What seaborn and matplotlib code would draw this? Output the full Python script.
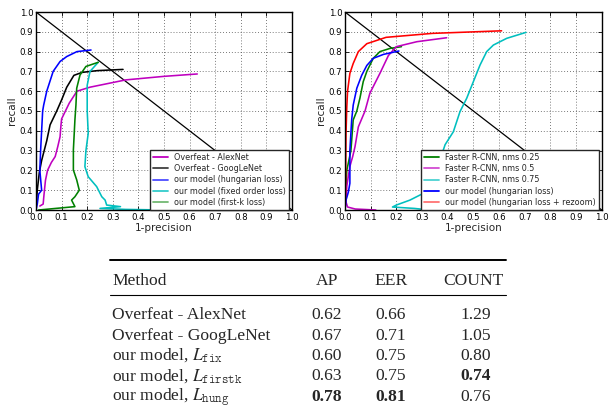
import matplotlib
matplotlib.use("Agg")
import matplotlib.pyplot as plt
import pandas as pd
import seaborn as sns

# ---------------- data: left panel ----------------
left_names = ["Overfeat - AlexNet", "Overfeat - GoogLeNet", "our model (hungarian loss)",
              "our model (fixed order loss)", "our model (first-k loss)"]
left_colors = ["#bf00bf", "#000000", "#0000ff", "#00bfbf", "#008000"]

alex_x = [0.015, 0.028, 0.030, 0.033, 0.037, 0.045, 0.060, 0.075, 0.085, 0.094, 0.097, 0.100, 0.115, 0.130, 0.160, 0.210, 0.350, 0.500, 0.630]
alex_y = [0.020, 0.030, 0.060, 0.100, 0.150, 0.200, 0.240, 0.270, 0.320, 0.370, 0.420, 0.460, 0.500, 0.540, 0.600, 0.620, 0.657, 0.675, 0.687]
goog_x = [0.000, 0.005, 0.013, 0.022, 0.042, 0.055, 0.081, 0.100, 0.120, 0.148, 0.180, 0.240, 0.340]
goog_y = [0.010, 0.100, 0.190, 0.250, 0.350, 0.430, 0.500, 0.556, 0.620, 0.680, 0.695, 0.704, 0.710]
hungL_x = [0.000, 0.005, 0.010, 0.022, 0.015, 0.018, 0.022, 0.026, 0.030, 0.042, 0.067, 0.094, 0.120, 0.160, 0.215]
hungL_y = [0.000, 0.030, 0.080, 0.100, 0.200, 0.300, 0.400, 0.500, 0.530, 0.600, 0.700, 0.750, 0.775, 0.800, 0.808]
fix_x = [0.500, 0.350, 0.250, 0.330, 0.276, 0.270, 0.257, 0.237, 0.204, 0.191, 0.195, 0.204, 0.200, 0.200, 0.200, 0.211, 0.243]
fix_y = [0.000, 0.003, 0.008, 0.017, 0.025, 0.050, 0.067, 0.118, 0.168, 0.219, 0.300, 0.387, 0.500, 0.556, 0.630, 0.700, 0.746]
firstk_x = [0.010, 0.094, 0.152, 0.139, 0.152, 0.169, 0.159, 0.146, 0.146, 0.152, 0.156, 0.159, 0.172, 0.195, 0.243]
firstk_y = [0.000, 0.010, 0.017, 0.050, 0.067, 0.100, 0.152, 0.202, 0.303, 0.455, 0.530, 0.615, 0.682, 0.725, 0.746]

# ---------------- data: right panel ----------------
right_names = ["Faster R-CNN, nms 0.25", "Faster R-CNN, nms 0.5", "Faster R-CNN, nms 0.75",
               "our model (hungarian loss)", "our model (hungarian loss + rezoom)"]
right_colors = ["#008000", "#bf00bf", "#00bfbf", "#0000ff", "#ff0000"]

nms25_x = [0.000, 0.002, 0.007, 0.023, 0.032, 0.046, 0.058, 0.071, 0.085, 0.110, 0.136, 0.175, 0.220]
nms25_y = [0.000, 0.070, 0.200, 0.300, 0.455, 0.500, 0.564, 0.648, 0.700, 0.766, 0.800, 0.816, 0.825]
nms50_x = [0.120, 0.040, 0.010, 0.004, 0.007, 0.019, 0.030, 0.039, 0.052, 0.078, 0.097, 0.136, 0.169, 0.200, 0.280, 0.396]
nms50_y = [0.000, 0.005, 0.015, 0.040, 0.120, 0.220, 0.270, 0.320, 0.420, 0.500, 0.590, 0.690, 0.780, 0.825, 0.850, 0.870]
nms75_x = [0.330, 0.270, 0.185, 0.200, 0.253, 0.305, 0.344, 0.370, 0.390, 0.422, 0.448, 0.474, 0.500, 0.526, 0.552, 0.578, 0.630, 0.705]
nms75_y = [0.000, 0.008, 0.015, 0.025, 0.050, 0.084, 0.168, 0.253, 0.330, 0.395, 0.497, 0.564, 0.648, 0.732, 0.800, 0.833, 0.867, 0.897]
hungR_x = [0.000, 0.004, 0.013, 0.019, 0.019, 0.019, 0.026, 0.032, 0.046, 0.065, 0.085, 0.110, 0.150, 0.210]
hungR_y = [0.000, 0.050, 0.090, 0.135, 0.200, 0.300, 0.455, 0.530, 0.615, 0.680, 0.730, 0.766, 0.786, 0.803]
rezoom_x = [0.000, 0.002, 0.003, 0.004, 0.007, 0.010, 0.019, 0.032, 0.052, 0.085, 0.160, 0.340, 0.610]
rezoom_y = [0.000, 0.100, 0.250, 0.390, 0.520, 0.600, 0.690, 0.740, 0.800, 0.840, 0.872, 0.892, 0.905]

ticks = [0.0, 0.1, 0.2, 0.3, 0.4, 0.5, 0.6, 0.7, 0.8, 0.9, 1.0]
tick_labels = ["0.0", "0.1", "0.2", "0.3", "0.4", "0.5", "0.6", "0.7", "0.8", "0.9", "1.0"]

# ---------------- data: table ----------------
tab_header = ["Method", "AP", "EER", "COUNT"]
tab_methods = ["Overfeat - AlexNet", "Overfeat - GoogLeNet", r"our model, $L_{\mathtt{fix}}$",
               r"our model, $L_{\mathtt{firstk}}$", r"our model, $L_{\mathtt{hung}}$"]
tab_ap = ["0.62", "0.67", "0.60", "0.63", "0.78"]
tab_eer = ["0.66", "0.71", "0.75", "0.75", "0.81"]
tab_count = ["1.29", "1.05", "0.80", "0.74", "0.76"]
tab_bold_ap = [False, False, False, False, True]
tab_bold_eer = [False, False, False, False, True]
tab_bold_count = [False, False, False, True, False]

# ---------------- figure ----------------
sns.set_style("white")
plt.rcParams["font.family"] = ["DejaVu Sans"]
plt.rcParams["mathtext.fontset"] = "stix"

W, H = 609, 413
fig = plt.figure(figsize=(W / 100, H / 100), dpi=100)


def px_axes(x0, y0, x1, y1):
    return fig.add_axes([x0 / W, 1 - y1 / H, (x1 - x0) / W, (y1 - y0) / H])


def make_df(names, xs, ys):
    frames = []
    for n, x, y in zip(names, xs, ys):
        frames.append(pd.DataFrame({"fp": x, "recall": y, "model": n}))
    return pd.concat(frames, ignore_index=True)


def panel(ax, names, colors, xs, ys, alphas):
    df = make_df(names, xs, ys)
    sns.lineplot(data=df, x="fp", y="recall", hue="model", hue_order=names,
                 palette=dict(zip(names, colors)), sort=False, estimator=None,
                 linewidth=1.15, ax=ax)
    ax.plot([0, 1], [1, 0], color="black", lw=0.9, zorder=1)
    ax.set_xlim(0, 1)
    ax.set_ylim(0, 1)
    ax.set_xticks(ticks)
    ax.set_yticks(ticks)
    ax.set_xticklabels(tick_labels, fontsize=6.2)
    ax.set_yticklabels(tick_labels, fontsize=6.2)
    ax.tick_params(direction="in", length=3, width=0.6, top=True, right=True,
                   bottom=True, left=True, pad=2, colors="black")
    ax.grid(True, color="0.3", linestyle=(0, (1, 2.5)), linewidth=0.6)
    for s in ax.spines.values():
        s.set_color("black")
        s.set_linewidth(1.0)
    ax.set_xlabel("1-precision", fontsize=7.5, labelpad=1)
    ax.set_ylabel("recall", fontsize=7.5, labelpad=2)
    sns.move_legend(ax, "lower right", bbox_to_anchor=(0.988, 0.0), borderaxespad=0,
                    title=None, frameon=True, fontsize=5.8, handlelength=1.8,
                    handletextpad=0.8, labelspacing=0.3, borderpad=0.35,
                    fancybox=False, framealpha=1.0, edgecolor="0.15")
    leg = ax.get_legend()
    leg.get_frame().set_linewidth(1.0)
    for h, a in zip(leg.legend_handles, alphas):
        h.set_alpha(a)
        h.set_linewidth(1.3)


axL = px_axes(36, 12, 292, 210)
panel(axL, left_names, left_colors,
      [alex_x, goog_x, hungL_x, fix_x, firstk_x],
      [alex_y, goog_y, hungL_y, fix_y, firstk_y],
      [1.0, 0.75, 0.7, 0.8, 0.55])

axR = px_axes(345, 12, 601.7, 210)
panel(axR, right_names, right_colors,
      [nms25_x, nms50_x, nms75_x, hungR_x, rezoom_x],
      [nms25_y, nms50_y, nms75_y, hungR_y, rezoom_y],
      [1.0, 0.7, 0.7, 1.0, 0.55])

# ---------------- table ----------------
def fx(x):
    return x / W


def fy(y):
    return 1 - y / H


serif = "Liberation Serif"
fs = 12.6
fig.add_artist(plt.Line2D([fx(110), fx(506)], [fy(260), fy(260)], transform=fig.transFigure,
                          color="black", lw=1.4))
fig.add_artist(plt.Line2D([fx(110), fx(506)], [fy(294.5), fy(294.5)], transform=fig.transFigure,
                          color="black", lw=0.8))

col_x = [112, 327, 391, 473]
fig.text(fx(col_x[0]), fy(285), tab_header[0], family=serif, fontsize=fs, ha="left", va="baseline")
for cx, h in zip(col_x[1:], tab_header[1:]):
    fig.text(fx(cx), fy(285), h, family=serif, fontsize=fs, ha="center", va="baseline")

baselines = [319, 339.5, 360, 380.5, 401]
for i, b in enumerate(baselines):
    fig.text(fx(112), fy(b), tab_methods[i], family=serif, fontsize=fs, ha="left", va="baseline")
    fig.text(fx(327), fy(b), tab_ap[i], family=serif, fontsize=fs, ha="center", va="baseline",
             fontweight="bold" if tab_bold_ap[i] else "normal")
    fig.text(fx(391), fy(b), tab_eer[i], family=serif, fontsize=fs, ha="center", va="baseline",
             fontweight="bold" if tab_bold_eer[i] else "normal")
    fig.text(fx(476), fy(b), tab_count[i], family=serif, fontsize=fs, ha="center", va="baseline",
             fontweight="bold" if tab_bold_count[i] else "normal")

fig.savefig("out.png", dpi=100)
